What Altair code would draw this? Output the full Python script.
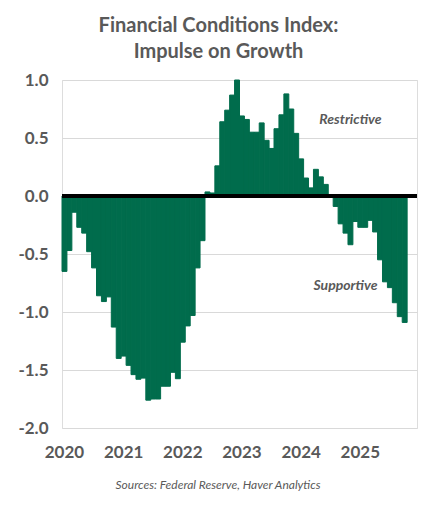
import altair as alt
import pandas as pd

years = [2020, 2021, 2022, 2023, 2024, 2025]
months = [f"{y}-{m:02d}" for y in years for m in range(1, 13)]

values = [
    -0.65, -0.47, -0.14, -0.27, -0.32, -0.48, -0.62, -0.86, -0.91, -0.87, -1.13, -1.40,
    -1.38, -1.46, -1.54, -1.58, -1.57, -1.76, -1.75, -1.75, -1.64, -1.64, -1.52, -1.575,
    -1.26, -1.12, -1.03, -0.62, -0.385, 0.035, 0.026, 0.26, 0.64, 0.74, 0.87, 1.0,
    0.69, 0.66, 0.55, 0.55, 0.63, 0.48, 0.41, 0.58, 0.70, 0.88, 0.75, 0.54,
    0.32, 0.155, 0.07, 0.23, 0.165, 0.10, 0.0, -0.09, -0.24, -0.32, -0.42, -0.22,
    -0.27, -0.27, -0.21, -0.31, -0.55, -0.74, -0.79, -0.92, -1.04, -1.09,
]

ann_text = ["Restrictive", "Supportive"]
ann_month = ["2024-11", "2024-10"]
ann_value = [0.655, -0.775]

source_text = "Sources: Federal Reserve, Haver Analytics"

GREEN = "#006C4C"
GREY = "#595959"
FONT = "Lato"

df = pd.DataFrame({"month": months[: len(values)], "value": values})
ann = pd.DataFrame({"label": ann_text, "month": ann_month, "value": ann_value})

x_scale = alt.Scale(domain=months, paddingInner=0, paddingOuter=0)
y_scale = alt.Scale(domain=[-2.0, 1.0], nice=False)

bars = alt.Chart(df).mark_bar(color=GREEN, stroke=GREEN, strokeWidth=1).encode(
    x=alt.X(
        "month:O",
        scale=x_scale,
        sort=months,
        axis=alt.Axis(
            title=None,
            labelAngle=0,
            ticks=False,
            domain=False,
            labelExpr="slice(datum.value, 5) == '01' ? slice(datum.value, 0, 4) : ''",
            labelFont=FONT,
            labelFontSize=17,
            labelFontWeight="bold",
            labelColor=GREY,
            labelPadding=16,
            labelOverlap=False,
        ),
    ),
    y=alt.Y(
        "value:Q",
        scale=y_scale,
        axis=alt.Axis(
            title=None,
            values=[-2.0, -1.5, -1.0, -0.5, 0.0, 0.5, 1.0],
            labelExpr="replace(format(datum.value, '.1f'), '\u2212', '-')",
            ticks=False,
            domain=False,
            grid=True,
            gridColor="#D9D9D9",
            gridWidth=1,
            labelFont=FONT,
            labelFontSize=17,
            labelFontWeight="bold",
            labelColor=GREY,
            labelPadding=14,
        ),
    ),
)

zero = alt.Chart(df).mark_rule(color="black", strokeWidth=3).encode(
    y=alt.datum(0, scale=y_scale)
)

labels = alt.Chart(ann).mark_text(
    font=FONT, fontSize=14, fontStyle="italic", fontWeight="bold", color=GREY
).encode(
    x=alt.X("month:O", scale=x_scale, sort=months),
    y=alt.Y("value:Q", scale=y_scale),
    text="label:N",
)

source = alt.Chart(pd.DataFrame({"t": [source_text]})).mark_text(
    font=FONT, fontSize=12, fontStyle="italic", color=GREY
).encode(
    x=alt.value(156),
    y=alt.value(405),
    text="t:N",
)

chart = (
    alt.layer(bars, zero, labels, source)
    .properties(
        width=355,
        height=348,
        autosize=alt.AutoSizeParams(type="none"),
        padding={"left": 54, "top": 72, "right": 9, "bottom": 68},
        title=alt.Title(
            ["Financial Conditions Index:", "Impulse on Growth"],
            font=FONT,
            fontSize=20,
            fontWeight="bold",
            color=GREY,
            anchor="middle",
            dx=-21,
            offset=9,
            lineHeight=26,
        ),
    )
    .configure_view(stroke=None)
    .configure(background="white")
)

chart.save("out.html", embed_options={"renderer": "svg", "actions": False})
